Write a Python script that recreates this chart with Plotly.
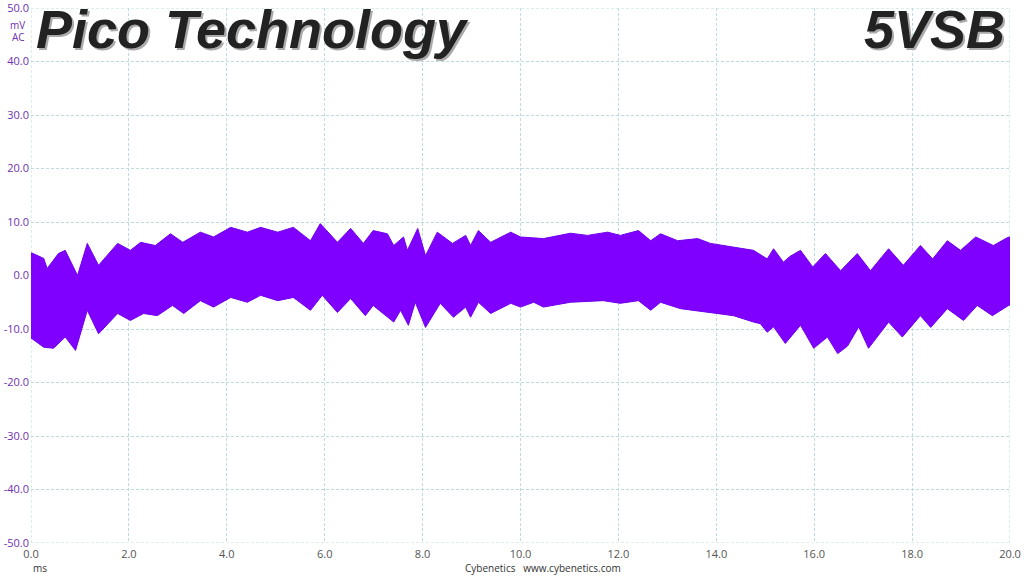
import plotly.graph_objects as go

# Envelope of the ripple waveform (time in ms, voltage in mV)
t_upper = [0.0, 0.02, 0.26, 0.33, 0.56, 0.70, 0.95, 1.15, 1.38, 1.77, 2.03, 2.24, 2.54, 2.85, 3.10, 3.46,
           3.73, 4.08, 4.42, 4.69, 5.04, 5.36, 5.71, 5.91, 6.26, 6.53, 6.79, 6.99, 7.28, 7.41, 7.61, 7.69,
           7.90, 8.06, 8.30, 8.61, 8.88, 8.98, 9.14, 9.39, 9.80, 10.00, 10.47, 11.02, 11.37, 11.78, 12.04,
           12.41, 12.66, 12.86, 13.21, 13.62, 13.88, 14.35, 14.76, 15.04, 15.17, 15.37, 15.51, 15.72, 15.97,
           16.23, 16.54, 16.88, 17.15, 17.52, 17.82, 18.17, 18.42, 18.72, 18.99, 19.30, 19.66, 19.95, 20.0]
v_upper = [4.2, 4.2, 3.2, 1.3, 4.1, 4.7, 0.0, 6.0, 1.9, 6.0, 4.7, 6.2, 5.6, 7.8, 6.2, 8.1,
           7.2, 9.0, 8.1, 9.0, 8.1, 9.0, 6.5, 9.7, 6.2, 8.8, 6.0, 8.4, 7.8, 5.6, 7.2, 4.7,
           8.8, 3.7, 8.1, 6.0, 7.5, 5.6, 8.4, 6.2, 8.1, 7.2, 6.9, 7.9, 7.5, 8.1, 7.5,
           8.4, 6.5, 7.8, 6.5, 6.9, 6.0, 5.3, 4.7, 3.1, 5.0, 2.5, 3.6, 4.7, 1.6,
           4.1, 0.9, 4.1, 0.9, 5.0, 1.9, 5.6, 3.1, 6.5, 4.7, 7.2, 5.6, 7.1, 7.2]

t_lower = [0.0, 0.02, 0.26, 0.46, 0.70, 0.91, 1.15, 1.38, 1.77, 2.03, 2.30, 2.58, 2.89, 3.12, 3.46, 3.73,
           4.08, 4.42, 4.69, 5.04, 5.36, 5.71, 5.95, 6.26, 6.53, 6.83, 6.99, 7.41, 7.55, 7.71, 7.85, 8.06,
           8.36, 8.63, 8.88, 8.98, 9.14, 9.39, 9.80, 10.00, 10.27, 10.47, 11.02, 11.69, 12.04, 12.41, 12.66,
           12.86, 13.27, 13.82, 14.35, 14.76, 14.90, 15.04, 15.17, 15.41, 15.72, 15.99, 16.27, 16.48, 16.68,
           16.91, 17.11, 17.52, 17.80, 18.17, 18.38, 18.72, 19.05, 19.33, 19.64, 19.97, 20.0]
v_lower = [-11.8, -11.8, -13.4, -13.6, -11.5, -14.0, -6.5, -10.9, -7.1, -8.4, -7.1, -7.5, -5.6, -7.1, -4.7, -5.9,
           -4.1, -5.0, -3.7, -4.7, -4.1, -6.5, -3.7, -6.9, -4.3, -7.5, -5.6, -8.7, -6.5, -9.3, -5.0, -9.7,
           -5.2, -7.8, -5.9, -7.8, -5.0, -7.1, -5.2, -5.9, -5.0, -5.9, -5.0, -4.7, -5.2, -4.7, -6.5,
           -5.0, -6.2, -6.9, -7.5, -8.7, -9.0, -10.6, -9.6, -12.7, -9.3, -13.6, -11.5, -14.6, -13.2,
           -9.6, -13.6, -8.7, -11.5, -7.5, -9.7, -6.2, -8.4, -5.6, -7.5, -5.6, -5.5]

x_ticks = [0, 2, 4, 6, 8, 10, 12, 14, 16, 18, 20]
y_ticks = [-50, -40, -30, -20, -10, 0, 10, 20, 30, 40, 50]

purple = "#7F00FF"
grid = "#BCDCE0"
dash = "3px,2px"

fig = go.Figure()
fig.add_trace(go.Scatter(
    x=t_upper + t_lower[::-1],
    y=v_upper + v_lower[::-1],
    fill="toself", fillcolor=purple, mode="lines",
    line=dict(color="#7000EE", width=1), hoverinfo="skip", showlegend=False))

fig.update_layout(
    width=1024, height=576,
    margin=dict(l=31, r=14, t=8, b=33),
    paper_bgcolor="white", plot_bgcolor="white",
    font=dict(family="Open Sans, Noto Sans, sans-serif", size=11),
    xaxis=dict(range=[0, 20], tickvals=x_ticks, ticktext=[f"{v:.1f}" for v in x_ticks],
               showgrid=True, gridcolor=grid, griddash=dash, gridwidth=1, automargin=False,
               zeroline=False, showline=False, ticks="", ticklabelstandoff=3,
               tickfont=dict(color="#555555", size=11)),
    yaxis=dict(range=[-50, 50], tickvals=y_ticks, ticktext=[f"{v:.1f}" for v in y_ticks],
               showgrid=True, gridcolor=grid, griddash=dash, gridwidth=1, automargin=False,
               zeroline=False, showline=False, ticks="", ticklabelstandoff=1,
               ticklabeloverflow="allow",
               tickfont=dict(color="#7030B0", size=11)),
)

# boundary grid lines
for xv in (0, 20):
    fig.add_shape(type="line", xref="x", yref="paper", x0=xv, x1=xv, y0=0, y1=1,
                  line=dict(color=grid, width=1, dash=dash), layer="below")
for yv in (-50, 50):
    fig.add_shape(type="line", xref="paper", yref="y", x0=0, x1=1, y0=yv, y1=yv,
                  line=dict(color=grid, width=1, dash=dash), layer="below")

ann = []
ann.append(dict(text="mV", xref="paper", yref="paper", x=-0.004, y=0.968, xanchor="right", yanchor="middle",
                showarrow=False, font=dict(color="#7030B0", size=10)))
ann.append(dict(text="AC", xref="paper", yref="paper", x=-0.004, y=0.945, xanchor="right", yanchor="middle",
                showarrow=False, font=dict(color="#7030B0", size=10)))
ann.append(dict(text="ms", xref="paper", yref="paper", x=0.0, y=-0.047, xanchor="left", yanchor="middle",
                showarrow=False, font=dict(color="#333333", size=10)))
ann.append(dict(text="Cybenetics&nbsp;&nbsp;&nbsp;www.cybenetics.com", xref="paper", yref="paper", x=0.523, y=-0.047,
                xanchor="center", yanchor="middle", showarrow=False, font=dict(color="#333333", size=10)))
# titles with shadow
for dx, dy, col in ((2, -2, "#AAAAAA"), (0, 0, "#222222")):
    ann.append(dict(text="Pico Technology", xref="paper", yref="paper", x=0.003, y=1.02,
                    xanchor="left", yanchor="top", xshift=dx, yshift=dy, showarrow=False,
                    font=dict(family="Liberation Sans, Arial, sans-serif", size=54, color=col,
                              style="italic", weight="bold")))
    ann.append(dict(text="5VSB", xref="paper", yref="paper", x=0.997, y=1.02,
                    xanchor="right", yanchor="top", xshift=dx, yshift=dy, showarrow=False,
                    font=dict(family="Liberation Sans, Arial, sans-serif", size=54, color=col,
                              style="italic", weight="bold")))
fig.update_layout(annotations=ann)

fig.write_html("out.html", config={"displayModeBar": False},
               post_script="document.body.style.margin='0px';document.body.style.overflow='hidden';")
